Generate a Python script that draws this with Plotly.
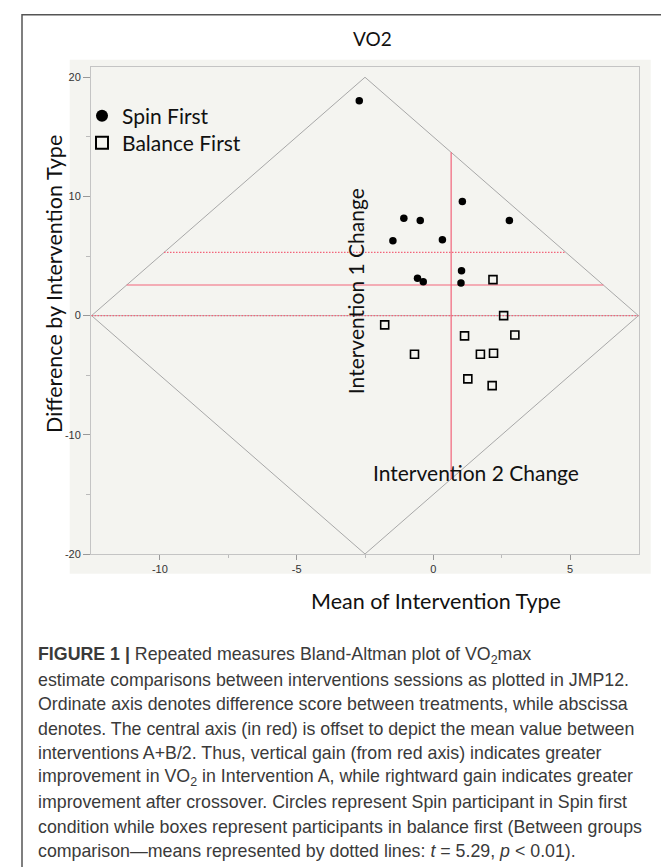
import plotly.graph_objects as go

# ---------------- data ----------------
spin_mean = [-2.71, 1.06, -1.08, -0.48, 2.78, -1.48, 0.33, 1.03, -0.58, -0.37, 1.01]
spin_diff = [18.03, 9.58, 8.18, 7.99, 7.99, 6.28, 6.37, 3.77, 3.13, 2.85, 2.74]
balance_mean = [2.18, 2.57, -1.78, 1.14, 2.98, -0.69, 1.72, 2.20, 1.26, 2.15]
balance_diff = [3.02, 0.00, -0.78, -1.70, -1.62, -3.24, -3.24, -3.16, -5.31, -5.87]

overall_mean_x = 0.65        # red vertical axis
overall_mean_diff = 2.57     # red horizontal axis
spin_group_mean = 5.3        # dotted line (Spin First)
balance_group_mean = 0.0     # dotted line (Balance First)
diamond_center = -2.5
diamond_half = 10.0

x_tickvals = [-10, -5, 0, 5]
x_ticktext = ["-10", "-5", "0", "5"]
y_tickvals = [-20, -10, 0, 10, 20]
y_ticktext = ["-20", "-10", "0", "10", "20"]

caption_lines = [
    "<b>FIGURE 1 |</b> Repeated measures Bland-Altman plot of VO<sub>2</sub>max",
    "estimate comparisons between interventions sessions as plotted in JMP12.",
    "Ordinate axis denotes difference score between treatments, while abscissa",
    "denotes. The central axis (in red) is offset to depict the mean value between",
    "interventions A+B/2. Thus, vertical gain (from red axis) indicates greater",
    "improvement in VO<sub>2</sub> in Intervention A, while rightward gain indicates greater",
    "improvement after crossover. Circles represent Spin participant in Spin first",
    "condition while boxes represent participants in balance first (Between groups",
    "comparison\u2014means represented by dotted lines: <i>t</i> = 5.29, <i>p</i> &lt; 0.01).",
]

# ---------------- layout geometry (pixels) ----------------
W, H = 669, 867
ML, MR, MT, MB = 83, 38, 59, 321
PW = W - ML - MR
PH = H - MT - MB


def px(xp):
    return (xp - ML) / PW


def py(yp):
    return (H - MB - yp) / PH


CAL = "Lato"
RED = "rgb(242,100,122)"
GREY = "#a8a8a8"
TXT = "#111111"

c, h = diamond_center, diamond_half


def hspan(y):
    return [c - h + abs(y) / 2.0, c + h - abs(y) / 2.0]


def vspan(x):
    e = 2 * (h - abs(x - c))
    return [-e, e]


fig = go.Figure()

# diamond (rotated original axes)
fig.add_trace(go.Scatter(
    x=[c - h, c, c + h, c, c - h], y=[0, 2 * h, 0, -2 * h, 0],
    mode="lines", line=dict(color=GREY, width=1), showlegend=False, hoverinfo="skip"))
# zero line (grey)
fig.add_trace(go.Scatter(x=hspan(0), y=[0, 0], mode="lines",
                         line=dict(color="#b8b8b8", width=1), showlegend=False, hoverinfo="skip"))
# group means (dotted)
for m in [spin_group_mean, balance_group_mean]:
    fig.add_trace(go.Scatter(x=hspan(m), y=[m, m], mode="lines",
                             line=dict(color=RED, width=1.2, dash="1.5px,1.5px"),
                             showlegend=False, hoverinfo="skip"))
# red central axes
fig.add_trace(go.Scatter(x=hspan(overall_mean_diff), y=[overall_mean_diff] * 2, mode="lines",
                         line=dict(color=RED, width=1.2), showlegend=False, hoverinfo="skip"))
fig.add_trace(go.Scatter(x=[overall_mean_x] * 2, y=vspan(overall_mean_x), mode="lines",
                         line=dict(color=RED, width=1.2), showlegend=False, hoverinfo="skip"))

# data
fig.add_trace(go.Scatter(x=spin_mean, y=spin_diff, mode="markers", name="Spin First",
                         legend="legend",
                         marker=dict(symbol="circle", size=7.5, color="black")))
fig.add_trace(go.Scatter(x=balance_mean, y=balance_diff, mode="markers", name="Balance First",
                         legend="legend2",
                         marker=dict(symbol="square-open", size=8, color="black",
                                     line=dict(width=1.6, color="black"))))

# shapes: outer figure frame and grey JMP panel
fig.add_shape(type="rect", xref="paper", yref="paper",
              x0=px(14), x1=px(667.3), y0=py(875), y1=py(6.7),
              line=dict(color="#555555", width=1.5), fillcolor="rgba(0,0,0,0)", layer="below")
fig.add_shape(type="rect", xref="paper", yref="paper",
              x0=px(61.7), x1=px(642.7), y0=py(565.7), y1=py(51.7),
              line=dict(width=0), fillcolor="#f4f4f0", layer="below")

ann = []
ann.append(dict(text="VO2", x=px(364.8), y=py(30), xref="paper", yref="paper",
                showarrow=False, font=dict(family=CAL, size=19, color=TXT),
                xanchor="center", yanchor="middle"))
ann.append(dict(text="Difference by Intervention Type", x=px(46), y=py(276),
                xref="paper", yref="paper", textangle=-90, showarrow=False,
                font=dict(family=CAL, size=21.5, color=TXT), xanchor="center", yanchor="middle"))
ann.append(dict(text="Mean of Intervention Type", x=px(428), y=py(593),
                xref="paper", yref="paper", showarrow=False,
                font=dict(family=CAL, size=21.5, color=TXT), xanchor="center", yanchor="middle"))
ann.append(dict(text="Intervention 1 Change", x=-2.84, y=2.03, xref="x", yref="y",
                textangle=-90, showarrow=False, font=dict(family=CAL, size=21, color=TXT),
                xanchor="center", yanchor="middle"))
ann.append(dict(text="Intervention 2 Change", x=1.55, y=-13.2, xref="x", yref="y",
                showarrow=False, font=dict(family=CAL, size=21, color=TXT),
                xanchor="center", yanchor="middle"))

cap_top, cap_step = 647, 24.5
for i, line in enumerate(caption_lines):
    ann.append(dict(text=line, x=px(28.3), y=py(cap_top + i * cap_step),
                    xref="paper", yref="paper", showarrow=False,
                    font=dict(family="Liberation Sans", size=17.8, color="#3a3a3a"),
                    xanchor="left", yanchor="middle"))

leg_common = dict(xanchor="left", yanchor="middle", bgcolor="rgba(0,0,0,0)",
                  font=dict(family=CAL, size=21, color=TXT), itemsizing="constant")

fig.update_layout(
    width=W, height=H,
    margin=dict(l=ML, r=MR, t=MT, b=MB, pad=0),
    paper_bgcolor="white", plot_bgcolor="white",
    annotations=ann,
    showlegend=True,
    legend=dict(x=px(74), y=py(108), **leg_common),
    legend2=dict(x=px(74), y=py(135), **leg_common),
    xaxis=dict(range=[-12.52, 7.52], tickvals=x_tickvals, ticktext=x_ticktext,
               showgrid=False, zeroline=False, showline=True, mirror=True,
               linecolor="#c4c4c4", linewidth=1, ticks="outside", ticklen=5,
               tickcolor="#999", tickfont=dict(family="Liberation Sans", size=11, color="#333"),
               minor=dict(ticks="outside", tickvals=[-7.5, -2.5, 2.5], ticklen=3, tickcolor="#bbb")),
    yaxis=dict(range=[-20, 20.86], tickvals=y_tickvals, ticktext=y_ticktext,
               showgrid=False, zeroline=False, showline=True, mirror=True,
               linecolor="#c4c4c4", linewidth=1, ticks="outside", ticklen=7,
               tickcolor="#999", tickfont=dict(family="Liberation Sans", size=11, color="#333"),
               minor=dict(ticks="outside", tickvals=[-15, -5, 5, 15], ticklen=4, tickcolor="#bbb")),
)

fig.write_html("out.html")
